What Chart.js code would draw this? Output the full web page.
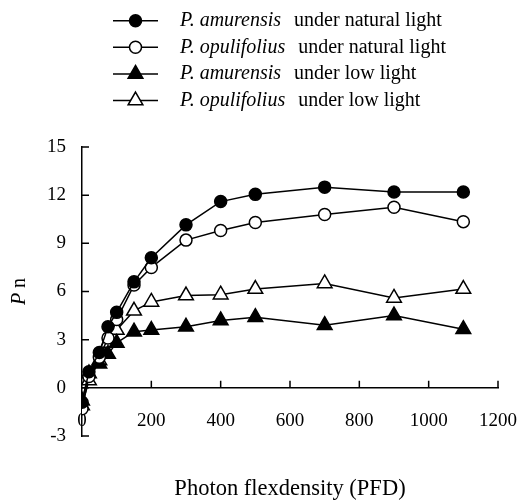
<!DOCTYPE html>
<html>
<head>
<meta charset="utf-8">
<script src="https://cdn.jsdelivr.net/npm/chart.js@4.4.1/dist/chart.umd.min.js"></script>
<style>
  html, body { margin: 0; padding: 0; background: #fff; }
  #wrap { width: 520px; height: 500px; }
</style>
</head>
<body>
<div id="wrap"><canvas id="myChart"></canvas></div>
<script>
// photon flux density values (x)
var pfd = [0, 20, 50, 75, 100, 150, 200, 300, 400, 500, 700, 900, 1100];

// net photosynthetic rate (Pn) for each series
var amurNatural = [-0.9, 1.0, 2.2, 3.8, 4.7, 6.6, 8.1, 10.15, 11.6, 12.05, 12.5, 12.2, 12.2];
var opulNatural = [-1.3, 0.7, 1.9, 3.1, 4.25, 6.4, 7.5, 9.2, 9.8, 10.3, 10.8, 11.25, 10.35];
var amurLow = [-0.8, 0.9, 1.5, 2.1, 2.8, 3.5, 3.6, 3.8, 4.2, 4.4, 3.9, 4.5, 3.65];
var opulLow = [-1.1, 0.45, 1.7, 2.8, 3.6, 4.8, 5.35, 5.75, 5.8, 6.15, 6.5, 5.6, 6.15];

var species = ['P. amurensis', 'P. opulifolius', 'P. amurensis', 'P. opulifolius'];
var conditions = ['under natural light', 'under natural light', 'under low light', 'under low light'];

var xTicks = [0, 200, 400, 600, 800, 1000, 1200];
var yTicks = [-3, 0, 3, 6, 9, 12, 15];

var serif = "'Liberation Serif', 'Times New Roman', serif";

function pts(ys) {
    return pfd.map(function (x, i) { return { x: x, y: ys[i] }; });
}

function series(ys, style, fill, radius) {
    return {
        data: pts(ys),
        borderColor: '#000',
        borderWidth: 1.5,
        pointStyle: style,
        pointRadius: radius,
        pointHoverRadius: radius,
        pointBackgroundColor: fill,
        pointBorderColor: '#000',
        pointBorderWidth: 1.5,
        tension: 0,
        fill: false
    };
}

// inner tick marks, y title with italic P, and the legend
var extras = {
    id: 'extras',
    beforeDatasetsDraw: function (chart) {
        var ctx = chart.ctx;
        var xs = chart.scales.x, ys = chart.scales.y;
        var y0 = ys.getPixelForValue(0);
        ctx.save();
        ctx.strokeStyle = '#000';
        ctx.lineWidth = 1.5;
        ctx.beginPath();
        yTicks.forEach(function (v) {
            var py = ys.getPixelForValue(v);
            ctx.moveTo(xs.left, py);
            ctx.lineTo(xs.left + 7, py);
        });
        xTicks.forEach(function (v) {
            if (v === 0) return;
            var px = xs.getPixelForValue(v);
            ctx.moveTo(px, y0);
            ctx.lineTo(px, y0 - 7);
        });
        ctx.stroke();
        ctx.restore();
    },
    afterDraw: function (chart) {
        var ctx = chart.ctx;
        var area = chart.chartArea;
        ctx.save();
        ctx.fillStyle = '#000';
        ctx.textBaseline = 'middle';

        // y title "Pn"
        ctx.save();
        ctx.translate(20, (area.top + area.bottom) / 2);
        ctx.rotate(-Math.PI / 2);
        ctx.font = 'italic 20px ' + serif;
        var wP = ctx.measureText('P').width;
        ctx.font = '20px ' + serif;
        var wn = ctx.measureText(' n').width;
        var sx = -(wP + wn) / 2;
        ctx.font = 'italic 20px ' + serif;
        ctx.fillText('P', sx, 0);
        ctx.font = '20px ' + serif;
        ctx.fillText(' n', sx + wP, 0);
        ctx.restore();

        // legend
        chart.data.datasets.forEach(function (ds, i) {
            var ly = 20.7 + i * 26.6;
            ctx.strokeStyle = '#000';
            ctx.lineWidth = 1.5;
            ctx.beginPath();
            ctx.moveTo(113, ly);
            ctx.lineTo(158, ly);
            ctx.stroke();
            ctx.fillStyle = ds.pointBackgroundColor;
            Chart.helpers.drawPoint(ctx, {
                pointStyle: ds.pointStyle,
                radius: ds.pointRadius,
                rotation: 0,
                borderWidth: 1.5
            }, 135.5, ly);
            ctx.fillStyle = '#000';
            ctx.font = 'italic 20px ' + serif;
            ctx.fillText(species[i], 180, ly);
            var w = ctx.measureText(species[i]).width;
            ctx.font = '20px ' + serif;
            ctx.fillText(conditions[i], 180 + w + 13, ly);
        });
        ctx.restore();
    }
};

var ctx = document.getElementById('myChart').getContext('2d');
var myChart = new Chart(ctx, {
    type: 'line',
    data: {
        datasets: [
            series(amurNatural, 'circle', '#000', 6),
            series(opulNatural, 'circle', '#fff', 6),
            series(amurLow, 'triangle', '#000', 8.5),
            series(opulLow, 'triangle', '#fff', 8.5)
        ]
    },
    options: {
        responsive: true,
        maintainAspectRatio: false,
        animation: false,
        layout: {
            padding: { left: 0, right: 22, top: 147, bottom: 0 }
        },
        plugins: {
            legend: { display: false },
            tooltip: { enabled: false },
            title: {
                display: true,
                position: 'bottom',
                fullSize: false,
                text: 'Photon flexdensity (PFD)',
                color: '#000',
                font: { family: serif, size: 22.5, weight: 'normal', lineHeight: 1 },
                padding: { top: 41.5, bottom: 0 }
            }
        },
        scales: {
            x: {
                type: 'linear',
                min: 0,
                max: 1200,
                position: { y: 0 },
                afterBuildTicks: function (s) {
                    s.ticks = xTicks.map(function (v) { return { value: v }; });
                },
                afterFit: function (s) {
                    s.height = 41;
                    s.paddingLeft = 0;
                    s.paddingRight = 0;
                },
                grid: { display: false, drawTicks: false },
                border: { display: true, color: '#000', width: 1.5 },
                ticks: {
                    color: '#000',
                    font: { family: serif, size: 19 },
                    padding: 22,
                    maxRotation: 0,
                    callback: function (v) { return String(v); }
                }
            },
            y: {
                type: 'linear',
                min: -3,
                max: 15,
                afterBuildTicks: function (s) {
                    s.ticks = yTicks.map(function (v) { return { value: v }; });
                },
                afterFit: function (s) { s.width = 82; },
                grid: { display: false, drawTicks: false },
                border: { display: true, color: '#000', width: 1.5 },
                ticks: {
                    color: '#000',
                    font: { family: serif, size: 19 },
                    padding: 16,
                    callback: function (v) { return String(v); }
                }
            }
        }
    },
    plugins: [extras]
});
</script>
</body>
</html>
